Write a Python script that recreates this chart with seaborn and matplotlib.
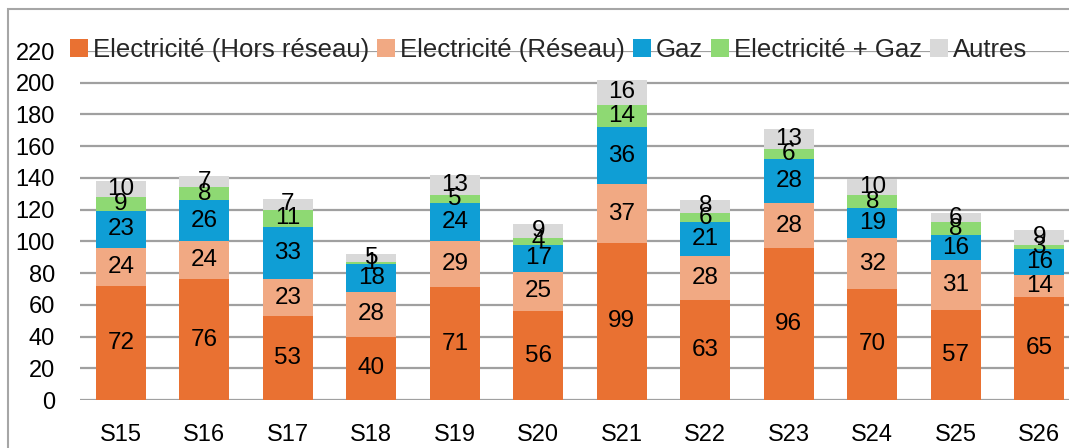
import matplotlib
matplotlib.use("Agg")
import matplotlib.pyplot as plt
import seaborn as sns
import numpy as np
import pandas as pd
from matplotlib.patches import Patch, Rectangle

weeks = ["S15", "S16", "S17", "S18", "S19", "S20", "S21", "S22", "S23", "S24", "S25", "S26"]
series_names = ["Electricité (Hors réseau)", "Electricité (Réseau)", "Gaz", "Electricité + Gaz", "Autres"]
elec_hors = [72, 76, 53, 40, 71, 56, 99, 63, 96, 70, 57, 65]
elec_reseau = [24, 24, 23, 28, 29, 25, 37, 28, 28, 32, 31, 14]
gaz = [23, 26, 33, 18, 24, 17, 36, 21, 28, 19, 16, 16]
elec_gaz = [9, 8, 11, 1, 5, 4, 14, 6, 6, 8, 8, 3]
autres = [10, 7, 7, 5, 13, 9, 16, 8, 13, 10, 6, 9]
colors = ["#E97132", "#F1A983", "#0F9ED5", "#8ED973", "#D9D9D9"]
yticks = list(range(0, 221, 20))

sns.set_theme(style="white")
plt.rcParams["font.family"] = ["Liberation Sans", "DejaVu Sans"]

W, H = 1069, 448
fig = plt.figure(figsize=(W / 100, H / 100), dpi=100)
ax = fig.add_axes([80 / W, 48 / H, (1081 - 80) / W, (400 - 51) / H])

layers = [elec_hors, elec_reseau, gaz, elec_gaz, autres]
cum = np.cumsum(np.array(layers, dtype=float), axis=0)

# draw from the top layer down so lower layers cover upper cumulative bars
for i in range(len(layers) - 1, -1, -1):
    df = pd.DataFrame({"week": weeks, "value": cum[i]})
    sns.barplot(data=df, x="week", y="value", order=weeks, color=colors[i],
                saturation=1, width=0.6, ax=ax, linewidth=0, zorder=2)

# labels
for i, vals in enumerate(layers):
    for j, v in enumerate(vals):
        y = cum[i][j] - v / 2
        ax.text(j, y, f"{v}", ha="center", va="center", fontsize=17.5,
                color="black", zorder=5)

ax.set_ylim(0, 220)
ax.set_xlim(-0.49, 11.5)
ax.set_yticks(yticks)
ax.set_yticklabels([str(t) for t in yticks])
ax.set_xlabel("")
ax.set_ylabel("")
ax.grid(axis="y", color="#A0A0A0", linewidth=1.6)
ax.grid(axis="x", visible=False)
ax.set_axisbelow(True)
for s in ax.spines.values():
    s.set_visible(False)
ax.tick_params(axis="both", length=0, labelsize=17, colors="black")
ax.tick_params(axis="y", pad=18)
ax.tick_params(axis="x", pad=17)

handles = [Patch(facecolor=c, edgecolor="none") for c in colors]
leg = fig.legend(handles, series_names, loc="center left",
                 bbox_to_anchor=(70 / W, 1 - 50 / H), ncol=5, frameon=False,
                 fontsize=18.5, handlelength=0.7, handleheight=0.7,
                 handletextpad=0.2, columnspacing=0.3, borderaxespad=0,
                 borderpad=0)

# outer chart frame
fig.patches.append(Rectangle((8 / W, -0.1), 1.2, (H - 9) / H + 0.1,
                             transform=fig.transFigure, fill=False,
                             edgecolor="#A6A6A6", linewidth=1.5))

fig.savefig("out.png", dpi=100)
